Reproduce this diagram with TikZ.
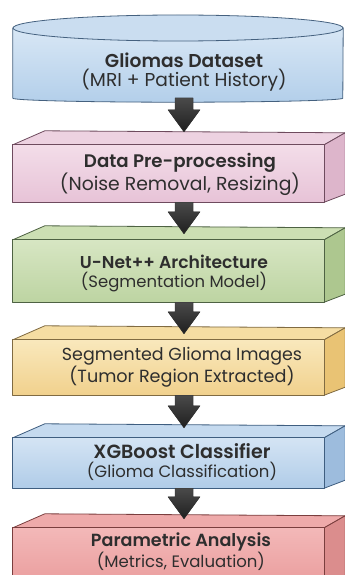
\documentclass[tikz,border=0pt]{standalone}
\usepackage{fontspec}
\usepackage{graphicx}
\setmainfont{Poppins}[BoldFont={Poppins SemiBold}]
\usetikzlibrary{calc}
\definecolor{cylA}{HTML}{D8E7F5}\definecolor{cylB}{HTML}{B3CFEA}\definecolor{cylT}{HTML}{CADDF0}\definecolor{cylE}{HTML}{45617F}
\definecolor{pkA}{HTML}{F3DDE9}\definecolor{pkB}{HTML}{E7C3D7}\definecolor{pkT}{HTML}{EDD2E1}\definecolor{pkS}{HTML}{DDB5CB}\definecolor{pkE}{HTML}{6E4B5E}
\definecolor{grA}{HTML}{D7E6C3}\definecolor{grB}{HTML}{BDD4A2}\definecolor{grT}{HTML}{CCDFB3}\definecolor{grS}{HTML}{ADC78F}\definecolor{grE}{HTML}{4E6243}
\definecolor{ylA}{HTML}{F9E8BC}\definecolor{ylB}{HTML}{F1D18D}\definecolor{ylT}{HTML}{F5DDA3}\definecolor{ylS}{HTML}{E9C374}\definecolor{ylE}{HTML}{806B42}
\definecolor{blA}{HTML}{D4E4F4}\definecolor{blB}{HTML}{B0CCE8}\definecolor{blT}{HTML}{C5DAEF}\definecolor{blS}{HTML}{9DBCDD}\definecolor{blE}{HTML}{3F5E80}
\definecolor{rdA}{HTML}{F3B8B8}\definecolor{rdB}{HTML}{E99B9B}\definecolor{rdT}{HTML}{EEAAAA}\definecolor{rdS}{HTML}{DB8D8D}\definecolor{rdE}{HTML}{7A3E3E}
\definecolor{arrA}{HTML}{4A4A4A}\definecolor{arrB}{HTML}{1F1F1F}
\definecolor{txt}{HTML}{2E2E2E}
\tikzset{
  front/.style={rectangle, inner sep=0pt, minimum width=311pt},
  edge/.style={line width=0.8pt, line join=round},
  label/.style={align=center, text=txt, inner sep=0pt, font=\fontsize{18}{19}\selectfont},
  fat/.style={top color=arrA, bottom color=arrB, draw=black!80, line width=0.4pt, line join=round},
}
\newcommand\titl[2]{\resizebox{#1pt}{!}{\bfseries #2}}
\newcommand\subl[2]{\resizebox{#1pt}{!}{#2}}
\newcommand\fatarrow[2]{%
  \fill[fat] ($(#1)+(-9,0)$) -- ($(#2)+(-9,-22)$) -- ($(#2)+(-16,-22)$) -- (#2)
    -- ($(#2)+(16,-22)$) -- ($(#2)+(9,-22)$) -- ($(#1)+(9,0)$) -- cycle;}
\newcommand\cuboid[6]{%
  \fill[#5, draw=#6, edge] (#1.north west) -- ++(32,-14) -- ($(#1.north east)+(21,-12)$) -- (#1.north east) -- cycle;
  \fill[#4, draw=#6, edge] (#1.north east) -- ++(21,-12) -- ($(#1.south east)+(21,-8)$) -- (#1.south east) -- cycle;
  \path[top color=#2, bottom color=#3, draw=#6, edge] (#1.north west) rectangle (#1.south east);}
\begin{document}
\begin{tikzpicture}[x=1pt,y=-1pt]
\useasboundingbox (0,0) rectangle (345,575);
\clip (0,0) rectangle (345,575);
\fill[white] (0,0) rectangle (345,575);
% dataset cylinder
\node[front, minimum width=330pt, minimum height=70pt] (b1) at (178,63) {};
\path[top color=cylA, bottom color=cylB, draw=cylE, edge]
  (b1.west |- 0,28) -- (b1.south west) arc[start angle=180, end angle=360, x radius=165, y radius=-4]
  -- (b1.east |- 0,28) -- cycle;
\path[fill=cylT, draw=cylE, edge] (178,28) ellipse[x radius=165, y radius=13];
\node[label] (t1) at (184,72) {\titl{158}{Gliomas Dataset}\\\subl{205}{(MRI + Patient History)}};
% boxes
\node[front, minimum height=57pt] (b2) at (168.5,173.5) {};
\cuboid{b2}{pkA}{pkB}{pkS}{pkT}{pkE}
\node[label] (t2) at (180,174.5) {\titl{192}{Data Pre-processing}\\\subl{240}{(Noise Removal, Resizing)}};
\node[front, minimum height=62pt] (b3) at (168.5,271) {};
\cuboid{b3}{grA}{grB}{grS}{grT}{grE}
\node[label] (t3) at (174,273.5) {\titl{188}{U-Net++ Architecture}\\\subl{186}{(Segmentation Model)}};
\node[front, minimum height=55pt] (b4) at (168.5,367.5) {};
\cuboid{b4}{ylA}{ylB}{ylS}{ylT}{ylE}
\node[label] (t4) at (182,367) {\subl{240}{Segmented Glioma Images}\\\subl{225}{(Tumor Region Extracted)}};
\node[front, minimum height=50pt] (b5) at (168.5,463) {};
\cuboid{b5}{blA}{blB}{blS}{blT}{blE}
\node[label] (t5) at (182,462.5) {\titl{177}{XGBoost Classifier}\\\subl{190}{(Glioma Classification)}};
\node[front, minimum height=62pt] (b6) at (168.5,559) {};
\cuboid{b6}{rdA}{rdB}{rdS}{rdT}{rdE}
\node[label] (t6) at (181,551.5) {\titl{180}{Parametric Analysis}\\\subl{168}{(Metrics, Evaluation)}};
% arrows
\coordinate (s1) at (184,98); \coordinate (e1) at ($(s1 |- b2.north)+(0,-13)$);
\coordinate (s2) at (s1 |- b2.south); \coordinate (e2) at ($(s1 |- b3.north)+(0,-6)$);
\coordinate (s3) at (s1 |- b3.south); \coordinate (e3) at ($(s1 |- b4.north)+(0,-6)$);
\coordinate (s4) at (s1 |- b4.south); \coordinate (e4) at ($(s1 |- b5.north)+(0,-10)$);
\coordinate (s5) at (s1 |- b5.south); \coordinate (e5) at ($(s1 |- b6.north)+(0,-9)$);
\fatarrow{s1}{e1}
\fatarrow{s2}{e2}
\fatarrow{s3}{e3}
\fatarrow{s4}{e4}
\fatarrow{s5}{e5}
\end{tikzpicture}
\end{document}
